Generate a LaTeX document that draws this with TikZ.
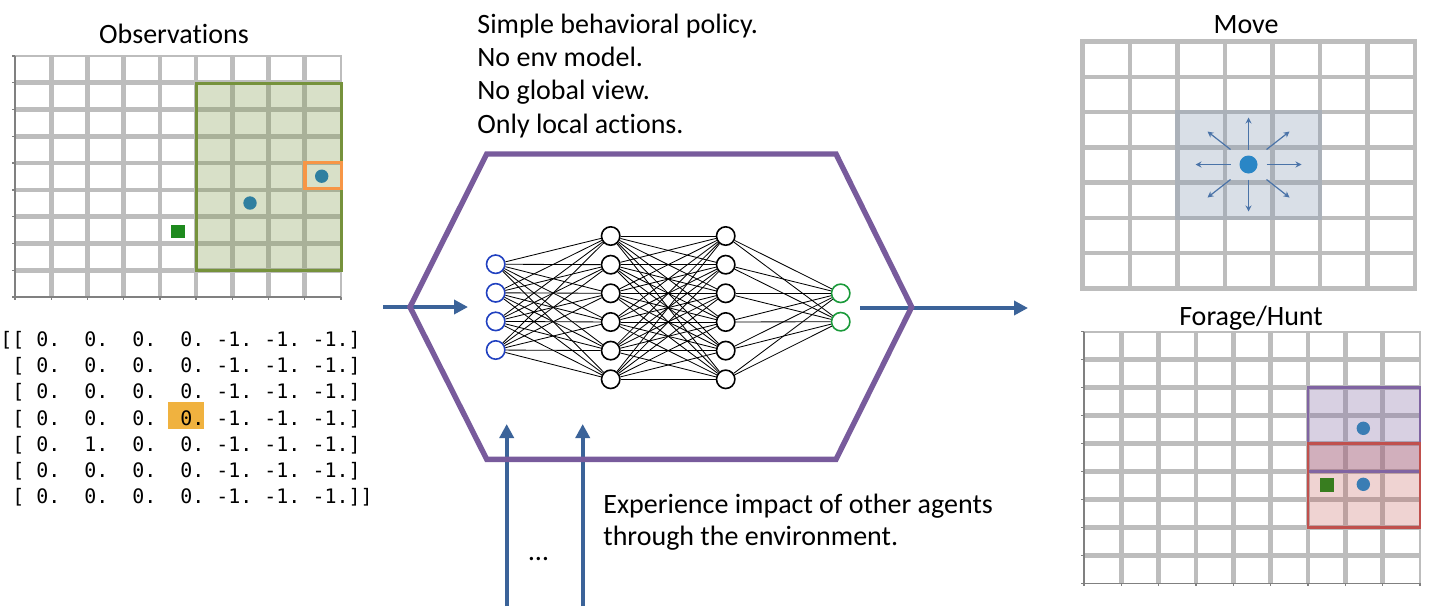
\documentclass[tikz,border=0pt]{standalone}
\usepackage{fontspec}
\setmainfont{Carlito}[Ligatures=NoCommon]
\setmonofont{DejaVu Sans Mono}
\usetikzlibrary{arrows.meta,calc}
\definecolor{gridgray}{HTML}{BDBDBD}
\definecolor{axisgray}{HTML}{808080}
\definecolor{flowblue}{HTML}{3B6399}
\definecolor{hexpurple}{HTML}{785B9C}
\definecolor{obsgreen}{HTML}{76923C}
\definecolor{obsorange}{HTML}{F79646}
\definecolor{dotteal}{HTML}{2F7FA0}
\definecolor{dotblue}{HTML}{2A86C6}
\definecolor{dotblue2}{HTML}{3A7DB4}
\definecolor{sqgreen}{HTML}{1E8A1E}
\definecolor{sqgreen2}{HTML}{387D1F}
\definecolor{moveblue}{HTML}{8497B0}
\definecolor{mvarrowc}{HTML}{4A73A8}
\definecolor{hlorange}{HTML}{F0B23F}
\definecolor{fpurple}{HTML}{8064A2}
\definecolor{fred}{HTML}{C0504D}
\definecolor{inblue}{HTML}{2040C0}
\definecolor{outgreen}{HTML}{1A9A3A}
\begin{document}
\begin{tikzpicture}[x=0.5pt,y=-0.5pt,
  gl/.style={draw=gridgray,line width=2.3pt},
  glthin/.style={draw=gridgray,line width=0.9pt},
  axis/.style={draw=axisgray,line width=0.7pt},
  flow/.style={draw=flowblue,line width=2pt,-{Triangle[length=7pt,width=7pt]}},
  hex/.style={draw=hexpurple,line width=2.7pt,line join=miter},
  mvarrow/.style={draw=mvarrowc,line width=0.6pt,-{Stealth[length=3pt,width=3pt]}},
  nnode/.style={circle,draw=black,fill=white,line width=0.8pt,minimum size=9.2pt,inner sep=0pt},
  nin/.style={nnode,draw=inblue},
  nout/.style={nnode,draw=outgreen},
  nnedge/.style={draw=black,line width=0.42pt},
  lbl/.style={font=\fontsize{14pt}{16.6pt}\selectfont,inner sep=0pt},
  mono/.style={font=\ttfamily\fontsize{9.97pt}{12pt}\selectfont,inner sep=0pt,anchor=base west},
]
\useasboundingbox (0,0) rectangle (1438,612);
\fill[white] (0,0) rectangle (1438,612);

% ---------- Observations grid ----------
\node[lbl,anchor=base] (obstitle) at (174,43) {Observations};
\foreach \i in {1,...,8} \draw[gl] ({15+\i*36.22},56) -- ({15+\i*36.22},297);
\foreach \j in {1,...,8} \draw[gl] (15,{56+\j*26.78}) -- (341,{56+\j*26.78});
\draw[glthin] (15,56) -- (341,56) -- (341,297);
\draw[axis] (15,56) -- (15,297) -- (341,297);
\foreach \j in {0,...,9} \draw[axis] (12,{56+\j*26.78}) -- (15,{56+\j*26.78});
\foreach \i in {0,...,9} \draw[axis] ({15+\i*36.22},297) -- ({15+\i*36.22},300);
\fill[obsgreen,fill opacity=0.28] (196.7,83.3) rectangle (341,270.7);
\draw[obsgreen,line width=1.5pt] (196.7,83.3) rectangle (341,270.7);
\fill[dotteal] (250,203) circle (6.7);
\fill[dotteal] (321.7,176.2) circle (6.7);
\draw[obsorange,line width=1.6pt] (305,162.3) rectangle (341.5,188.3);
\fill[sqgreen] (171,224.5) rectangle (184.5,238);

% ---------- Observation matrix ----------
\fill[hlorange] (168,401.7) rectangle (204,429);
\node[mono] (m1) at (0,346.7) {[[~0.~~0.~~0.~~0.~-1.~-1.~-1.]};
\node[mono] (m2) at (0,372.8) {~[~0.~~0.~~0.~~0.~-1.~-1.~-1.]};
\node[mono] (m3) at (0,398.9) {~[~0.~~0.~~0.~~0.~-1.~-1.~-1.]};
\node[mono] (m4) at (0,425.0) {~[~0.~~0.~~0.~~0.~-1.~-1.~-1.]};
\node[mono] (m5) at (0,451.1) {~[~0.~~1.~~0.~~0.~-1.~-1.~-1.]};
\node[mono] (m6) at (0,477.2) {~[~0.~~0.~~0.~~0.~-1.~-1.~-1.]};
\node[mono] (m7) at (0,503.3) {~[~0.~~0.~~0.~~0.~-1.~-1.~-1.]]};

% ---------- Text above policy ----------
\node[lbl,anchor=base west] (t1) at (477,33.3) {Simple behavioral policy.};
\node[lbl,anchor=base west] (t2) at (477,66.6) {No env model.};
\node[lbl,anchor=base west] (t3) at (477,99.9) {No global view.};
\node[lbl,anchor=base west] (t4) at (477,133.2) {Only local actions.};

% ---------- Arrows ----------
\coordinate (inS) at (383,307);
\coordinate (inE) at (468,307);
\coordinate (outS) at (860,308);
\coordinate (outE) at (1028,308);
\coordinate (b1S) at (506.7,606);
\coordinate (b1E) at (506.7,424);
\coordinate (b2S) at (582.7,606);
\coordinate (b2E) at (582.7,424);
\draw[flow] (inS) -- (inE);
\draw[flow] (outS) -- (outE);
\draw[flow] (b1S) -- (b1E);
\draw[flow] (b2S) -- (b2E);

% ---------- Hexagon ----------
\draw[hex] (486.7,154) -- (836,154) -- (911.7,307) -- (836,459.3) -- (486.7,459.3) -- (410,307) -- cycle;

% ---------- Neural network ----------
\foreach \k [count=\n] in {264.2,292.8,321.4,350.0} \node[nin] (i\n) at (495.7,\k) {};
\foreach \k [count=\n] in {236.0,264.7,293.3,322.0,350.6,379.3} {
  \node[nnode] (a\n) at (610.7,\k) {};
  \node[nnode] (b\n) at (725.7,\k) {};
}
\node[nout] (o1) at (840.7,293.3) {};
\node[nout] (o2) at (840.7,321.7) {};
\foreach \i in {1,...,4} \foreach \j in {1,...,6} \draw[nnedge] (i\i) -- (a\j);
\foreach \i in {1,...,6} \foreach \j in {1,...,6} \draw[nnedge] (a\i) -- (b\j);
\foreach \i in {1,...,6} \foreach \j in {1,2} \draw[nnedge] (b\i) -- (o\j);

% ---------- Bottom text ----------
\node[lbl,anchor=base] (dots) at (538.5,560) {\ldots};
\node[lbl,anchor=base west] (e1) at (603,513.3) {Experience impact of other agents};
\node[lbl,anchor=base west] (e2) at (603,545) {through the environment.};

% ---------- Move grid ----------
\node[lbl,anchor=base] (movetitle) at (1246,33.3) {Move};
\foreach \i in {1,...,6} \draw[gl] ({1082.7+\i*47.47},41.7) -- ({1082.7+\i*47.47},288.3);
\foreach \j in {1,...,6} \draw[gl] (1082.7,{41.7+\j*35.24}) -- (1415,{41.7+\j*35.24});
\draw[gl] (1082.7,41.7) rectangle (1415,288.3);
\fill[moveblue,fill opacity=0.3] (1175.3,109.9) rectangle (1322.4,220.2);
\node[circle,fill=dotblue,minimum size=9pt,inner sep=0pt] (agent) at (1248.5,164.5) {};
\foreach \sx/\sy/\ex/\ey in {18/0/53/0, -18/0/-53/0, 0/-15/0/-47, 0/15/0/47,
   18/-15/41/-33, -18/-15/-41/-33, 18/15/41/33, -18/15/-41/33}
  \draw[mvarrow] ($(agent)+(\sx,\sy)$) -- ($(agent)+(\ex,\ey)$);

% ---------- Forage/Hunt grid ----------
\node[lbl,anchor=base] (foragetitle) at (1251,325) {Forage/Hunt};
\foreach \i in {1,...,8} \draw[gl] ({1084+\i*37.33},331.7) -- ({1084+\i*37.33},583.3);
\foreach \j in {1,...,8} \draw[gl] (1084,{331.7+\j*27.96}) -- (1420,{331.7+\j*27.96});
\draw[glthin] (1084,331.7) -- (1420,331.7) -- (1420,583.3);
\draw[axis] (1084,331.7) -- (1084,583.3) -- (1420,583.3);
\foreach \j in {0,...,9} \draw[axis] (1081,{331.7+\j*27.96}) -- (1084,{331.7+\j*27.96});
\foreach \i in {0,...,9} \draw[axis] ({1084+\i*37.33},583.3) -- ({1084+\i*37.33},586.3);
\fill[fpurple,fill opacity=0.3] (1308,387.6) rectangle (1420,471.5);
\fill[fred,fill opacity=0.25] (1308,443.5) rectangle (1420,527.4);
\draw[fpurple,line width=1.4pt] (1308,387.6) rectangle (1420,471.5);
\draw[fred,line width=1.4pt] (1308,443.5) rectangle (1420,527.4);
\fill[dotblue2] (1363.3,428.3) circle (6.7);
\fill[dotblue2] (1363.3,484.3) circle (6.7);
\fill[sqgreen2] (1319.7,478) rectangle (1333.7,492);
\end{tikzpicture}
\end{document}
